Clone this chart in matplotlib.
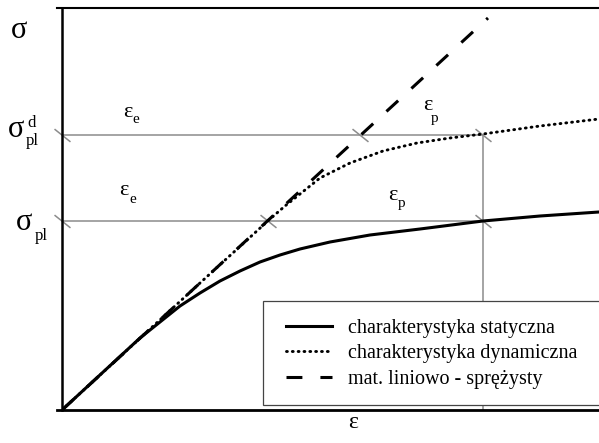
"""Stress-strain diagram: static vs dynamic characteristic."""
import matplotlib
matplotlib.use("Agg")
import matplotlib.pyplot as plt
from matplotlib.path import Path
from matplotlib.patches import Rectangle

plt.rcParams["font.family"] = ["Liberation Serif", "DejaVu Serif"]

W, H = 599, 443

# curves (strain, stress), arbitrary units
eps_static = [0, 78, 98, 118, 138, 158, 178, 198, 218, 238, 268, 308, 358, 421, 478, 537]
sig_static = [0, 72, 88, 104, 117, 129, 139, 148, 155, 161, 168, 175, 181, 189, 194, 198]

eps_dynamic = [0, 138, 208, 223, 238, 258, 288, 321, 355, 388, 421, 478, 537]
sig_dynamic = [0, 127, 191, 204, 216, 232, 247, 259, 267, 272, 276, 284, 291]

eps_linear = [0, 426]
sig_linear = [0, 392]

# yield levels and matching strains
sig_levels = [189, 275]          # sigma_pl, sigma_pl^d
eps_elastic = [206, 298]         # end of elastic part on each level
eps_total = 421                  # total strain at the vertical guide

legend_labels = [
    "charakterystyka statyczna",
    "charakterystyka dynamiczna",
    "mat. liniowo - sprężysty",
]

fig = plt.figure(figsize=(W / 100, H / 100), dpi=100)
ax = fig.add_axes([62 / W, 33 / H, 537 / W, 402 / H])
ax.set_xlim(0, 537)
ax.set_ylim(0, 402)

guide = "#8c8c8c"
for s in sig_levels:
    ax.plot([0, eps_total], [s, s], color=guide, lw=1.1, zorder=1)
ax.plot([eps_total, eps_total], [0, max(sig_levels)], color=guide, lw=1.1, zorder=1)

slash = Path([(-1, 0.8), (1, -0.8)], [Path.MOVETO, Path.LINETO])
for s, e in zip(sig_levels, eps_elastic):
    ax.plot([0, e, eps_total], [s, s, s], linestyle="none", marker=slash,
            markersize=11.5, markeredgewidth=1.1, color=guide, clip_on=False, zorder=2)

l1, = ax.plot(eps_static, sig_static, color="black", lw=2.2, zorder=3)
l2, = ax.plot(eps_dynamic, sig_dynamic, color="black", lw=2.1,
              linestyle=(0, (0.3, 1.7)), dash_capstyle="round", zorder=3)
l3, = ax.plot(eps_linear, sig_linear, color="black", lw=2.2,
              linestyle=(0, (5.2, 5.9)), zorder=3)

ax.spines["right"].set_visible(False)
ax.spines["left"].set_linewidth(1.8)
ax.spines["bottom"].set_linewidth(2.0)
ax.spines["top"].set_linewidth(1.5)
ax.spines["top"].set_bounds(-5, 537)
ax.spines["bottom"].set_bounds(-5, 537)
ax.set_xticks([])
ax.set_yticks([])

# legend frame runs off the right edge in the reference
fig.add_artist(Rectangle((263 / W, 1 - 405 / H), 0.6, 104 / H, transform=fig.transFigure,
                         facecolor="white", edgecolor="#444444", lw=0.9, zorder=5))
leg = fig.legend([l1, l2, l3], legend_labels, loc="upper left",
                 bbox_to_anchor=(286 / W, 1 - 319 / H), borderaxespad=0, borderpad=0,
                 fontsize=14.5, handlelength=2.29, handletextpad=0.8, labelspacing=0.31,
                 frameon=False)
leg.set_zorder(6)


def label(x, y, s, size, ha="center"):
    fig.text(x / W, 1 - y / H, s, fontsize=size, ha=ha, va="baseline")


big, mid, small = 22, 16, 12
label(19, 38, "σ", big)
label(24, 137, "σ", big, ha="right")
label(27, 127, "d", small, ha="left")
label(26, 145, "pl", small, ha="left")
label(32, 230, "σ", big, ha="right")
label(35, 240, "pl", small, ha="left")
label(127.5, 117, "ε", mid)
label(132, 123, "e", 11, ha="left")
label(124, 195, "ε", mid)
label(129, 203, "e", 11, ha="left")
label(427.5, 110, "ε", mid)
label(431, 122, "p", 11, ha="left")
label(393, 200, "ε", mid)
label(398, 207, "p", 11, ha="left")
label(353, 428, "ε", 17)

fig.savefig("out.png", dpi=100)
